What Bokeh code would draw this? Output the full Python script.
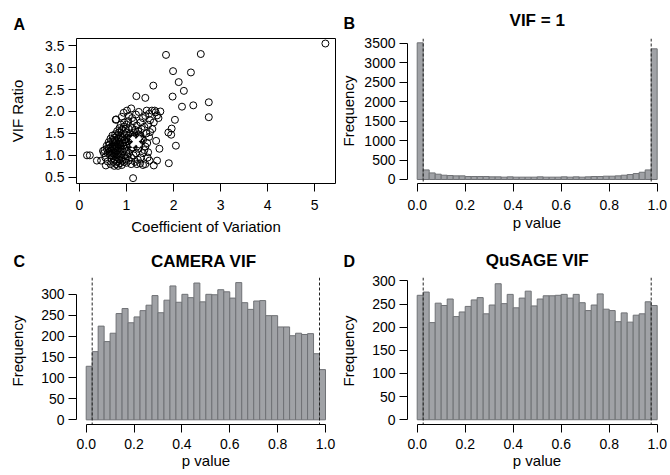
from bokeh.plotting import figure
from bokeh.layouts import gridplot
from bokeh.models import Range1d, Span, Label, FixedTicker, NumeralTickFormatter
from bokeh.embed import file_html
from bokeh.resources import INLINE

FONT = "Liberation Sans"

# ---------------- data ----------------
cv = [5.23, 1.84, 2.58, 1.99, 2.37, 2.11, 2.22, 1.57, 1.98, 2.18, 2.42, 2.75, 2.75, 1.21, 1.40,
      2.03, 1.96, 1.89, 1.95, 2.05, 1.90, 1.14, 1.63, 1.70, 1.65, 1.58, 1.72, 1.54, 1.60, 1.65,
      0.16, 0.22, 0.37, 0.46, 0.56,
      0.77, 0.78, 0.94, 1.01, 1.10, 1.26, 1.43, 1.50, 1.35, 1.20, 1.05, 0.90, 1.15, 1.30, 1.40,
      1.48, 1.46, 1.50, 1.48, 1.44, 1.40, 1.46, 1.35, 1.30, 1.49, 1.40, 1.29, 1.24, 1.18, 1.10,
      1.00, 0.90, 0.82, 0.74, 0.66, 0.60, 0.55, 0.52, 0.50, 0.53, 0.58, 0.62, 0.60, 0.65, 0.68,
      0.70, 0.72, 0.74, 0.76, 0.80, 0.85, 0.88, 0.95, 1.00, 1.05, 1.08, 1.12, 1.18, 1.22, 1.25,
      1.30, 1.32, 1.35, 1.28, 1.25, 1.20, 1.15, 1.10, 1.05, 1.00, 0.95, 0.90, 0.85, 0.80, 0.75,
      0.72, 0.70, 0.68, 0.75, 0.78, 0.82, 0.85, 0.88, 0.92, 0.96, 1.00, 1.02, 0.98, 0.94, 0.90,
      0.86, 0.82, 0.78, 0.74, 0.80, 0.84, 0.88, 0.92, 0.96, 1.06, 1.10, 1.12, 1.15, 1.08, 0.86,
      0.82, 0.78, 0.76, 0.72, 0.66, 0.64, 0.70, 0.74, 0.80, 0.84, 0.90, 0.94, 0.98, 1.04, 1.12,
      0.92, 0.98, 1.02, 0.88, 0.84, 0.76, 0.92, 0.96, 1.00, 1.04, 0.86, 0.80, 0.88, 0.76, 0.70,
      0.66, 0.62, 0.58, 0.64, 0.68, 0.72, 0.78, 0.86, 0.95, 1.05, 1.22, 1.35, 1.45, 1.38, 1.42,
      1.38, 1.55, 1.58, 1.62, 1.68,
      1.10, 1.15, 1.25, 1.28, 1.18, 1.22, 1.12, 1.30, 1.26, 1.16, 1.05, 1.32, 1.20, 1.24, 1.14]
vif = [3.55, 3.29, 3.31, 2.92, 2.89, 2.67, 2.47, 2.59, 2.34, 2.11, 2.14, 2.21, 1.87, 2.35, 2.31,
       1.81, 1.61, 1.52, 1.47, 1.22, 0.82, 0.48, 1.33, 1.15, 0.88, 0.77, 2.00, 2.02, 2.02, 1.91,
       1.00, 1.00, 0.88, 0.88, 0.77,
       1.81, 1.82, 1.97, 2.02, 2.07, 1.99, 2.02, 1.80, 1.85, 1.93, 1.90, 1.88, 1.78, 1.75, 1.90,
       1.95, 1.70, 1.53, 1.42, 1.28, 1.20, 1.07, 1.05, 0.95, 0.88, 0.80, 0.82, 0.90, 0.85, 0.80,
       0.83, 0.78, 0.76, 0.76, 0.80, 0.86, 0.95, 1.05, 1.10, 1.12, 1.15, 1.16, 1.05, 1.00, 0.92,
       1.20, 1.30, 1.40, 1.48, 1.55, 1.62, 1.70, 1.75, 1.70, 1.60, 1.50, 1.62, 1.58, 1.68, 1.55,
       1.45, 1.60, 1.35, 1.25, 1.15, 1.05, 1.00, 0.95, 1.05, 1.10, 1.00, 0.95, 0.90, 0.85, 0.90,
       0.98, 1.05, 1.10, 1.12, 1.18, 1.25, 1.30, 1.35, 1.42, 1.48, 1.52, 1.40, 1.30, 1.22, 1.15,
       1.08, 1.02, 0.96, 1.02, 1.10, 1.16, 1.22, 1.28, 1.35, 1.25, 1.15, 1.32, 1.42, 1.38, 1.45,
       1.38, 1.30, 1.22, 1.15, 1.18, 1.25, 1.35, 1.25, 1.45, 1.52, 1.58, 1.65, 1.60, 1.78, 1.85,
       0.88, 0.92, 0.98, 1.02, 0.98, 1.06, 1.08, 1.15, 1.22, 1.32, 1.26, 1.20, 1.40, 1.35, 1.45,
       1.38, 1.30, 1.22, 1.08, 1.00, 0.85, 0.80, 0.82, 0.85, 0.88, 0.80, 0.78, 0.95, 1.12, 1.50,
       1.65, 1.60, 1.75, 1.98, 1.85,
       1.30, 1.25, 1.35, 1.42, 1.45, 1.20, 1.38, 1.30, 1.48, 1.52, 1.45, 1.38, 1.40, 1.25, 1.18]
mean_cv = [1.20]
mean_vif = [1.31]

bin_left = [i * 0.025 for i in range(40)]
bin_right = [(i + 1) * 0.025 for i in range(40)]

freq_vif1 = [3510, 246, 169, 136, 110, 102, 93, 93, 76, 76, 76, 76, 68, 68, 60, 68, 60, 60, 60, 60,
             68, 60, 60, 60, 68, 60, 68, 60, 68, 76, 76, 85, 85, 93, 110, 127, 152, 186, 246, 3356]
freq_camera = [128, 163, 224, 187, 207, 254, 266, 232, 246, 261, 274, 297, 256, 286, 320, 281, 300, 292, 327, 282,
               300, 299, 311, 306, 291, 328, 280, 264, 284, 285, 249, 249, 222, 222, 201, 207, 204, 206, 158, 120]
freq_qusage = [269, 276, 210, 252, 247, 261, 223, 233, 245, 259, 264, 229, 248, 294, 251, 271, 242, 263, 278, 246,
               261, 268, 268, 269, 271, 263, 271, 253, 236, 248, 272, 239, 236, 212, 231, 211, 226, 229, 255, 247]

cutoffs = [0.025, 0.975]
p_ticks = [0.0, 0.2, 0.4, 0.6, 0.8, 1.0]

BAR_FILL = "#a0a2a6"
BAR_LINE = "#6f7175"


def make_fig(w, h, bl, br, bt, bb, xr, yr):
    p = figure(width=w, height=h, min_border_left=bl, min_border_right=br,
               min_border_top=bt, min_border_bottom=bb, title=None,
               x_range=Range1d(*xr), y_range=Range1d(*yr),
               output_backend="svg", toolbar_location=None)
    p.grid.visible = False
    p.outline_line_color = None
    p.background_fill_color = "white"
    p.border_fill_color = "white"
    for ax in (p.xaxis[0], p.yaxis[0]):
        ax.major_tick_out = 8
        ax.major_tick_in = 0
        ax.minor_tick_out = 0
        ax.minor_tick_in = 0
        ax.axis_line_color = "black"
        ax.major_tick_line_color = "black"
        ax.major_label_text_font = FONT
        ax.major_label_text_font_size = "14px"
        ax.major_label_text_color = "black"
        ax.axis_label_text_font = FONT
        ax.axis_label_text_font_size = "15px"
        ax.axis_label_text_font_style = "normal"
        ax.axis_label_text_color = "black"
    return p


def add_above_text(p, x, y, txt, size, align):
    p.add_layout(Label(x=x, y=y, x_units="screen", y_units="screen", text=txt,
                       text_font=FONT, text_font_size=size, text_font_style="bold",
                       text_align=align, text_baseline="alphabetic", text_color="black"),
                 "above")


# ---------------- Panel A ----------------
pA = make_fig(337, 237, 76, 1, 37, 53, (-0.0636, 5.445), (0.358, 3.664))
pA.outline_line_color = "black"
pA.outline_line_width = 1
pA.scatter(cv, vif, marker="circle", size=7, fill_color=None, line_color="black", line_width=1)
pA.scatter(mean_cv, mean_vif, marker="x", size=13, line_color="white", line_width=4)
pA.xaxis.ticker = FixedTicker(ticks=[0, 1, 2, 3, 4, 5])
pA.xaxis.bounds = (0, 5)
pA.yaxis.ticker = FixedTicker(ticks=[0.5, 1.0, 1.5, 2.0, 2.5, 3.0, 3.5])
pA.yaxis.formatter = NumeralTickFormatter(format="0.0")
pA.yaxis.bounds = (0.5, 3.5)
pA.xaxis.axis_label = "Coefficient of Variation"
pA.yaxis.axis_label = "VIF Ratio"
pA.xaxis.major_label_standoff = 8
pA.yaxis.major_label_standoff = 4
pA.xaxis.axis_label_standoff = 5
pA.yaxis.axis_label_standoff = 16
add_above_text(pA, -63, 14.5, "A", "16px", "left")


def hist_panel(w, h, bl, br, bt, bb, xr, yr, freqs, yticks, title, letter,
               lx, ly, tx, ty, ylab_standoff, xlab_gap, xtick_gap):
    p = make_fig(w, h, bl, br, bt, bb, xr, yr)
    p.quad(left=bin_left, right=bin_right, bottom=0, top=freqs,
           fill_color=BAR_FILL, line_color=BAR_LINE, line_width=1)
    for c in cutoffs:
        p.add_layout(Span(location=c, dimension="height", line_color="#222222",
                          line_width=1, line_dash="3 2"))
    p.xaxis.ticker = FixedTicker(ticks=p_ticks)
    p.xaxis.formatter = NumeralTickFormatter(format="0.0")
    p.xaxis.bounds = (0, 1)
    p.yaxis.ticker = FixedTicker(ticks=yticks)
    p.yaxis.formatter = NumeralTickFormatter(format="0")
    p.yaxis.bounds = (yticks[0], yticks[-1])
    p.xaxis.axis_label = "p value"
    p.yaxis.axis_label = "Frequency"
    p.xaxis.major_label_standoff = xtick_gap
    p.yaxis.major_label_standoff = 4
    p.xaxis.axis_label_standoff = xlab_gap
    p.yaxis.axis_label_standoff = ylab_standoff
    add_above_text(p, lx, ly, letter, "16px", "left")
    add_above_text(p, tx, ty, title, "17px", "center")
    return p


pB = hist_panel(333, 237, 70, 4, 38, 54, (-0.0404, 1.0388), (-103, 3621), freq_vif1,
                [0, 500, 1000, 1500, 2000, 2500, 3000, 3500], "VIF = 1", "B",
                -64, 15.2, 129.7, 0.7, 4, 1, 8)
pC = hist_panel(337, 238, 76, 2, 40, 51, (-0.0405, 1.0418), (-11.2, 340.2), freq_camera,
                [0, 50, 100, 150, 200, 250, 300], "CAMERA VIF", "C",
                -63, 16.2, 127.3, -0.6, 12, 0, 6)
pD = hist_panel(333, 238, 70, 4, 39, 51, (-0.0404, 1.0388), (-10.3, 307.5), freq_qusage,
                [0, 50, 100, 150, 200, 250, 300], "QuSAGE VIF", "D",
                -64, 16.5, 129.7, 0.0, 12, 0, 6)

grid = gridplot([[pA, pB], [pC, pD]], toolbar_location=None)

open("out.html", "w").write(file_html(grid, INLINE))
